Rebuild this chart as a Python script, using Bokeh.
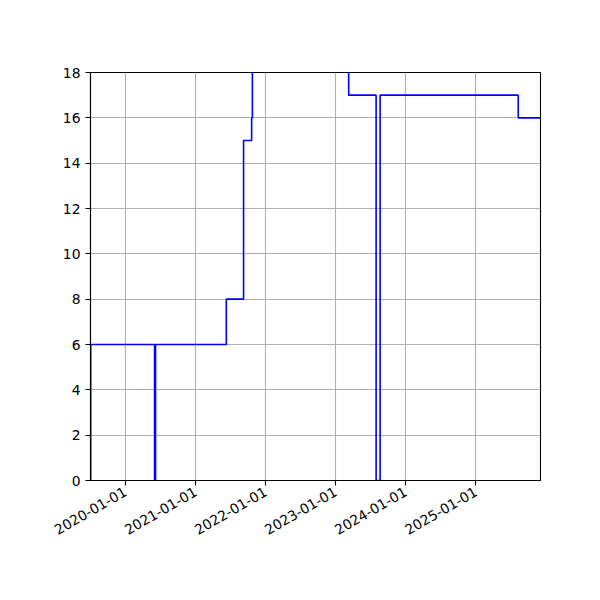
import math
from datetime import datetime

from bokeh.embed import file_html
from bokeh.models import DatetimeTickFormatter, FixedTicker, Range1d
from bokeh.plotting import figure
from bokeh.resources import INLINE

# step changes (value holds until the next date)
dates = [
    datetime(2019, 7, 3), datetime(2019, 7, 4), datetime(2020, 6, 1), datetime(2020, 6, 6),
    datetime(2021, 6, 10), datetime(2021, 9, 8), datetime(2021, 10, 20), datetime(2021, 10, 24),
    datetime(2023, 3, 10), datetime(2023, 7, 31), datetime(2023, 8, 21), datetime(2025, 8, 10),
    datetime(2025, 12, 4),
]
values = [0, 6, 0, 6, 8, 15, 16, 20, 17, 0, 17, 16, 16]

year_ticks = [datetime(y, 1, 1) for y in range(2020, 2026)]
y_ticks = [0, 2, 4, 6, 8, 10, 12, 14, 16, 18]

p = figure(width=584, height=584, x_axis_type="datetime",
           output_backend="svg", toolbar_location=None,
           x_range=Range1d(dates[0], dates[-1]), y_range=Range1d(0, 18),
           min_border_left=90, min_border_right=44, min_border_top=72, min_border_bottom=104)

p.step(dates, values, mode="after", line_color="blue", line_width=1.6)

p.xaxis.ticker = FixedTicker(ticks=[d.timestamp() * 1000 for d in year_ticks])
fmt = "%Y-%m-%d"
p.xaxis.formatter = DatetimeTickFormatter(days=fmt, months=fmt, years=fmt)
p.xaxis.major_label_orientation = math.pi / 6
p.yaxis.ticker = FixedTicker(ticks=y_ticks)

for ax in (p.xaxis, p.yaxis):
    ax.axis_line_color = "black"
    ax.axis_line_width = 1.1
    ax.major_tick_line_color = "black"
    ax.major_tick_line_width = 1.1
    ax.major_tick_out = 5
    ax.major_tick_in = 0
    ax.minor_tick_line_color = None
    ax.major_label_text_font = "DejaVu Sans"
    ax.major_label_text_font_size = "13.9px"
    ax.major_label_text_color = "black"

p.grid.grid_line_color = "#b0b0b0"
p.grid.grid_line_width = 1.1
p.outline_line_color = "black"
p.outline_line_width = 1.1
p.outline_line_alpha = 1

open("out.html", "w").write(file_html(p, INLINE))
